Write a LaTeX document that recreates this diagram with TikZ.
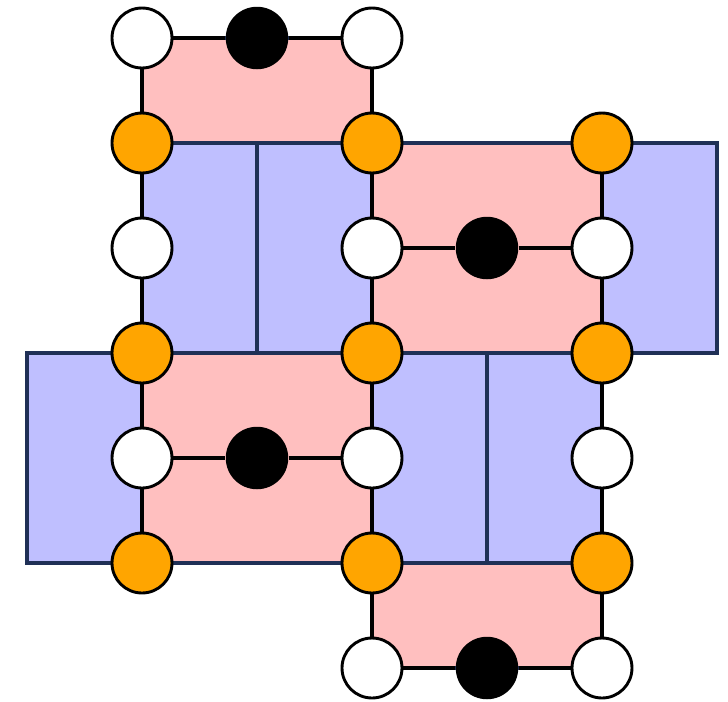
\documentclass[tikz,border=0pt]{standalone}
\begin{document}
\begin{tikzpicture}[x=0.02cm,y=-0.02cm]
\definecolor{navyedge}{RGB}{31,48,86}
\definecolor{bluefill}{RGB}{191,191,255}
\definecolor{pinkfill}{RGB}{255,191,191}
\definecolor{orangefill}{RGB}{255,165,0}
\tikzset{
  tile/.style={draw=navyedge,line width=0.062cm},
  bluetile/.style={tile,fill=bluefill},
  pinktile/.style={tile,fill=pinkfill},
  site/.style={circle,draw=black,line width=0.058cm,minimum size=1.2cm,inner sep=0pt},
  wsite/.style={site,fill=white},
  osite/.style={site,fill=orangefill},
  bsite/.style={circle,fill=black,minimum size=1.25cm,inner sep=0pt},
  bond/.style={line width=0.075cm,black}}
\useasboundingbox (0,0) rectangle (728,701);

% tiles
\draw[bluetile] (142,143) rectangle (257,353);
\draw[bluetile] (257,143) rectangle (372,353);
\draw[bluetile] (602,143) rectangle (717,353);
\draw[bluetile] (27,353) rectangle (142,563);
\draw[bluetile] (372,353) rectangle (487,563);
\draw[bluetile] (487,353) rectangle (602,563);
\draw[pinktile] (142,38) rectangle (372,143);
\draw[pinktile] (372,143) rectangle (602,353);
\draw[pinktile] (142,353) rectangle (372,563);
\draw[pinktile] (372,563) rectangle (602,668);

% sites
\node[wsite] (a1) at (142,38) {};
\node[bsite] (b1) at (257,38) {};
\node[wsite] (c1) at (372,38) {};
\node[osite] (a2) at (142,143) {};
\node[osite] (c2) at (372,143) {};
\node[osite] (e2) at (602,143) {};
\node[wsite] (a3) at (142,248) {};
\node[wsite] (c3) at (372,248) {};
\node[bsite] (d3) at (487,248) {};
\node[wsite] (e3) at (602,248) {};
\node[osite] (a4) at (142,353) {};
\node[osite] (c4) at (372,353) {};
\node[osite] (e4) at (602,353) {};
\node[wsite] (a5) at (142,458) {};
\node[bsite] (b5) at (257,458) {};
\node[wsite] (c5) at (372,458) {};
\node[wsite] (e5) at (602,458) {};
\node[osite] (a6) at (142,563) {};
\node[osite] (c6) at (372,563) {};
\node[osite] (e6) at (602,563) {};
\node[wsite] (c7) at (372,668) {};
\node[bsite] (d7) at (487,668) {};
\node[wsite] (e7) at (602,668) {};

% bonds
\draw[bond] (a1) -- (b1) -- (c1);
\draw[bond] (c3) -- (d3) -- (e3);
\draw[bond] (a5) -- (b5) -- (c5);
\draw[bond] (c7) -- (d7) -- (e7);
\draw[bond] (a1) -- (a2) -- (a3) -- (a4) -- (a5) -- (a6);
\draw[bond] (c1) -- (c2) -- (c3) -- (c4) -- (c5) -- (c6) -- (c7);
\draw[bond] (e2) -- (e3) -- (e4) -- (e5) -- (e6) -- (e7);
\end{tikzpicture}
\end{document}
